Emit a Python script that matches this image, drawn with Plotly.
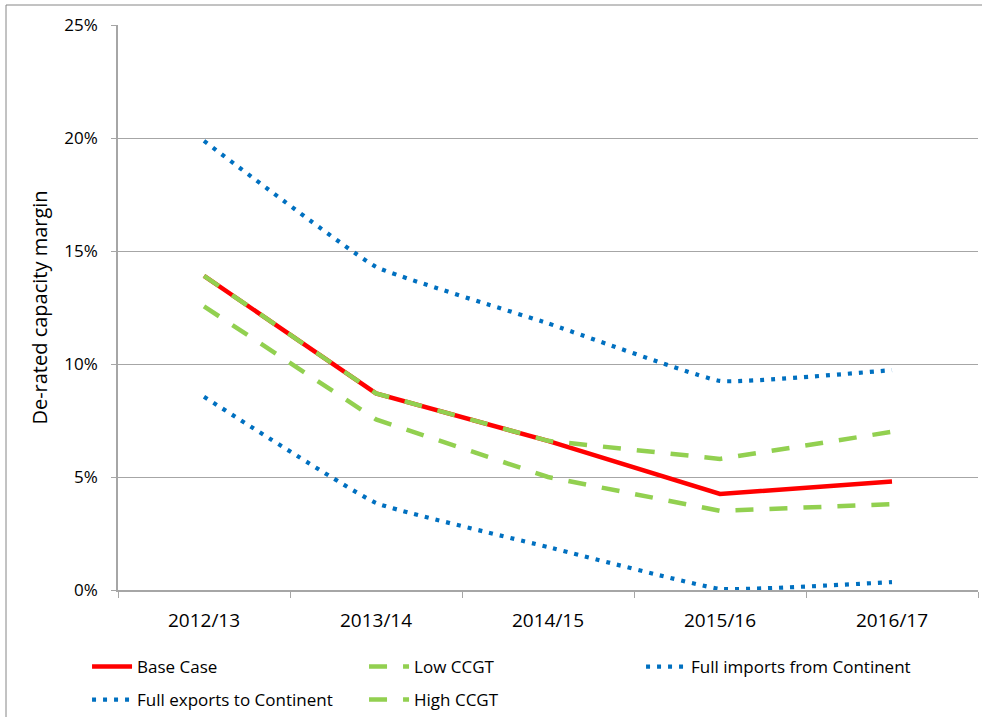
import plotly.graph_objects as go

years = ["2012/13", "2013/14", "2014/15", "2015/16", "2016/17"]
base_case = [0.139, 0.087, 0.066, 0.0425, 0.048]
low_ccgt = [0.1255, 0.0755, 0.050, 0.035, 0.038]
full_imports = [0.1987, 0.143, 0.118, 0.0925, 0.0973]
full_exports = [0.0855, 0.0385, 0.019, 0.0005, 0.0035]
high_ccgt = [0.139, 0.087, 0.066, 0.058, 0.070]
y_ticks = [0, 0.05, 0.10, 0.15, 0.20, 0.25]

RED = "#FF0000"
GREEN = "#92D050"
BLUE = "#0070C0"
FONT = "Open Sans, DejaVu Sans, sans-serif"

fig = go.Figure()
fig.add_trace(go.Scatter(x=years, y=base_case, name="Base Case", mode="lines",
                         line=dict(color=RED, width=4.5), legend="legend"))
fig.add_trace(go.Scatter(x=years, y=low_ccgt, name="Low CCGT", mode="lines",
                         line=dict(color=GREEN, width=4.5, dash="18px,16px"), legend="legend"))
fig.add_trace(go.Scatter(x=years, y=full_imports, name="Full imports from Continent", mode="lines",
                         line=dict(color=BLUE, width=4.2, dash="4px,7px", shape="spline", smoothing=0.3),
                         legend="legend"))
fig.add_trace(go.Scatter(x=years, y=full_exports, name="Full exports to Continent", mode="lines",
                         line=dict(color=BLUE, width=4.2, dash="4px,7px", shape="spline", smoothing=0.3),
                         legend="legend2"))
fig.add_trace(go.Scatter(x=years, y=high_ccgt, name="High CCGT", mode="lines",
                         line=dict(color=GREEN, width=4.5, dash="18px,16px"), legend="legend2"))

legend_common = dict(orientation="h", xanchor="left", yanchor="middle",
                     font=dict(family=FONT, size=17, color="#000000"),
                     entrywidth=222, entrywidthmode="pixels",
                     bgcolor="rgba(0,0,0,0)", itemwidth=40, tracegroupgap=0)

fig.update_layout(
    width=982, height=717,
    autosize=False,
    margin=dict(l=118, r=4, t=25, b=127, autoexpand=False),
    paper_bgcolor="white", plot_bgcolor="white",
    font=dict(family=FONT, size=16, color="#000000"),
    showlegend=True,
    legend=dict(x=-0.036, y=-0.1363, **legend_common),
    legend2=dict(x=-0.036, y=-0.1947, **legend_common),
    xaxis=dict(
        type="category", showgrid=False, showline=True, linecolor="#A6A6A6", linewidth=1.5,
        ticks="outside", tickson="boundaries", ticklen=6, tickcolor="#A6A6A6",
        tickfont=dict(family=FONT, size=19, color="#000000"),
        ticklabelstandoff=12,
        range=[-0.5, 4.5], fixedrange=True,
    ),
    yaxis=dict(
        range=[0, 0.25], tickvals=y_ticks, tickformat=".0%",
        showgrid=True, gridcolor="#A6A6A6", gridwidth=1,
        showline=True, linecolor="#A6A6A6", linewidth=1.5,
        ticks="outside", ticklen=5, tickcolor="#A6A6A6",
        tickfont=dict(family=FONT, size=17, color="#000000"),
        ticklabelstandoff=10,
        title=dict(text="De-rated capacity margin", font=dict(family=FONT, size=20), standoff=11),
        zeroline=False, fixedrange=True,
    ),
    shapes=[dict(type="rect", xref="paper", yref="paper",
                 x0=-(118 - 6) / 860, x1=(982 - 118 + 10) / 860,
                 y0=-(717 - 590 + 10) / 565, y1=1 + 20 / 565,
                 line=dict(color="#868686", width=1), fillcolor="rgba(0,0,0,0)", layer="below")],
)

fig.write_html("out.html", config={"responsive": False, "displayModeBar": False},
               post_script="document.body.style.margin='0';document.body.style.padding='0';")
